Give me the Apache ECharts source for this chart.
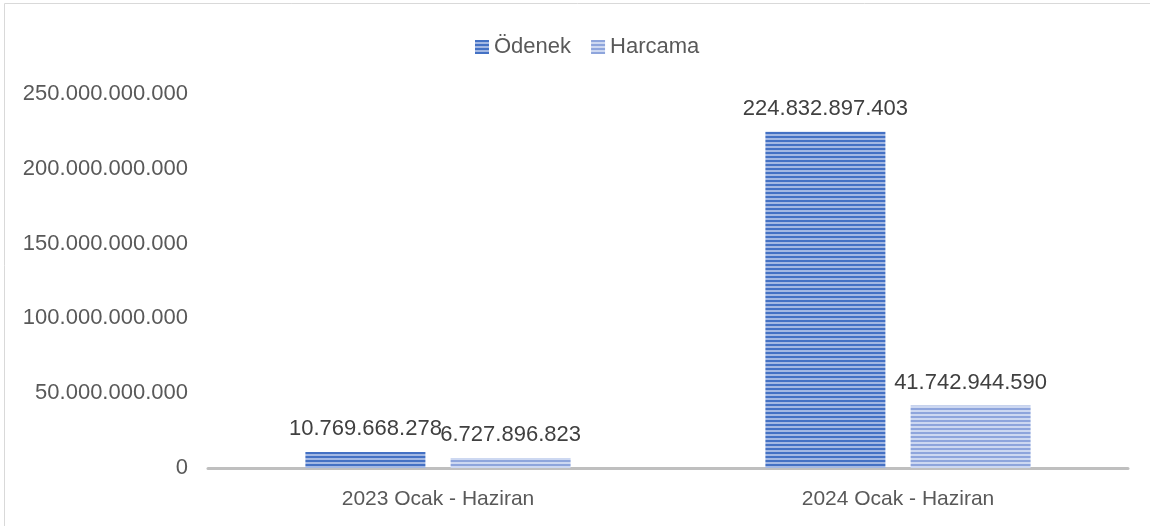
<!DOCTYPE html>
<html>
<head>
<meta charset="utf-8">
<script src="https://cdn.jsdelivr.net/npm/echarts@6/dist/echarts.min.js"></script>
<style>
  html, body { margin: 0; padding: 0; background: #fff; }
  #main { width: 1150px; height: 526px; }
</style>
</head>
<body>
<div id="main"></div>
<script>
// veriler
const categories = ['2023 Ocak - Haziran', '2024 Ocak - Haziran']
const seriesNames = ['Ödenek', 'Harcama']
const odenek = [10769668278, 224832897403]
const harcama = [6727896823, 41742944590]
const yTicks = { min: 0, max: 250000000000, interval: 50000000000 }

// yatay çizgili desen
function stripes(dark, light) {
  const c = document.createElement('canvas')
  c.width = 4
  c.height = 4
  const ctx = c.getContext('2d')
  ctx.fillStyle = light
  ctx.fillRect(0, 0, 4, 4)
  ctx.fillStyle = dark
  ctx.fillRect(0, 0, 4, 2)
  return { image: c, repeat: 'repeat' }
}

// 250.000.000.000 biçimi
function fmt(v) {
  return String(Math.round(v)).replace(/\B(?=(\d{3})+(?!\d))/g, '.')
}

const font = 'Liberation Sans'
const chart = echarts.init(document.getElementById('main'))

const label = {
  show: true,
  position: 'top',
  distance: 12,
  color: '#404040',
  fontFamily: font,
  fontSize: 22,
  formatter: p => fmt(p.value)
}

chart.setOption({
  animation: false,
  graphic: [{
    type: 'rect',
    shape: { x: 4.5, y: 3.5, width: 1160, height: 540 },
    style: { fill: 'none', stroke: '#d9d9d9', lineWidth: 1 }
  }],
  legend: {
    top: 31,
    left: 470,
    icon: 'rect',
    itemWidth: 14,
    itemHeight: 14,
    itemGap: 20,
    textStyle: { color: '#595959', fontFamily: font, fontSize: 22 },
    data: seriesNames
  },
  grid: { left: 208, right: 22, top: 94, bottom: 58 },
  xAxis: {
    type: 'category',
    data: categories,
    axisLine: { lineStyle: { color: '#bfbfbf', width: 3 } },
    axisTick: { show: false },
    axisLabel: { color: '#595959', fontFamily: font, fontSize: 21, margin: 21 }
  },
  yAxis: {
    type: 'value',
    min: yTicks.min,
    max: yTicks.max,
    interval: yTicks.interval,
    splitLine: { show: false },
    axisLine: { show: false },
    axisTick: { show: false },
    axisLabel: {
      color: '#595959', fontFamily: font, fontSize: 22, margin: 20,
      formatter: v => fmt(v)
    }
  },
  series: [
    {
      name: seriesNames[0],
      type: 'bar',
      data: odenek,
      barWidth: 120,
      barGap: '21%',
      itemStyle: { color: stripes('#4471c4', '#a3b8e3') },
      label: label
    },
    {
      name: seriesNames[1],
      type: 'bar',
      data: harcama,
      barWidth: 120,
      itemStyle: { color: stripes('#8ea5dc', '#cdd8f1') },
      label: label
    }
  ]
})
</script>
</body>
</html>
